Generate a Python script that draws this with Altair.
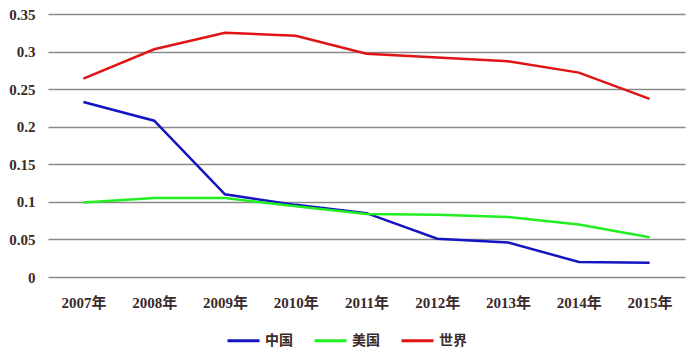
import altair as alt
import pandas as pd

years = ["2007年", "2008年", "2009年", "2010年", "2011年", "2012年", "2013年", "2014年", "2015年"]
china = [0.233, 0.208, 0.110, 0.096, 0.085, 0.051, 0.046, 0.020, 0.019]
usa = [0.099, 0.105, 0.105, 0.094, 0.084, 0.083, 0.080, 0.070, 0.053]
world = [0.264, 0.303, 0.325, 0.321, 0.297, 0.292, 0.287, 0.272, 0.237]
series = ["中国", "美国", "世界"]
colors = ["#1414c0", "#22ee22", "#e01414"]
yticks = [0, 0.05, 0.1, 0.15, 0.2, 0.25, 0.3, 0.35]

rows = []
for name, vals in zip(series, [china, usa, world]):
    for y, v in zip(years, vals):
        rows.append({"year": y, "series": name, "value": v})
df = pd.DataFrame(rows)

font = "Liberation Serif, Noto Sans CJK SC"

chart = alt.Chart(df).mark_line(strokeWidth=2.5).encode(
    x=alt.X("year:N", sort=years, title=None,
            scale=alt.Scale(paddingInner=0, paddingOuter=0.5),
            axis=alt.Axis(labelAngle=0, domain=False, ticks=False, grid=False,
                          labelPadding=18, labelFont=font, labelFontSize=15,
                          labelFontWeight="bold", labelColor="#3a2a2a")),
    y=alt.Y("value:Q", title=None,
            scale=alt.Scale(domain=[0, 0.35], nice=False),
            axis=alt.Axis(values=yticks, format="~g", domain=False, ticks=False,
                          grid=True, gridColor="#8a8a8a", gridWidth=1.5,
                          labelPadding=13, labelFont=font, labelFontSize=15,
                          labelFontWeight="bold", labelColor="#3a2a2a")),
    color=alt.Color("series:N", sort=series,
                    scale=alt.Scale(domain=series, range=colors),
                    legend=alt.Legend(title=None, orient="none", direction="horizontal",
                                      legendX=178, legendY=309,
                                      symbolType="stroke", symbolStrokeWidth=3,
                                      symbolSize=1024, symbolOffset=0, labelOffset=4,
                                      labelFont="Noto Sans CJK SC", labelFontWeight="bold",
                                      labelFontSize=14, labelColor="#3a2a2a",
                                      columnPadding=15)),
).properties(width=637, height=263,
             autosize=alt.AutoSizeParams(type="none"),
             padding={"left": 40, "top": 6, "right": 6, "bottom": 80}
).configure_view(stroke=None)

chart.save("out.html", embed_options={"renderer": "svg", "actions": False})
